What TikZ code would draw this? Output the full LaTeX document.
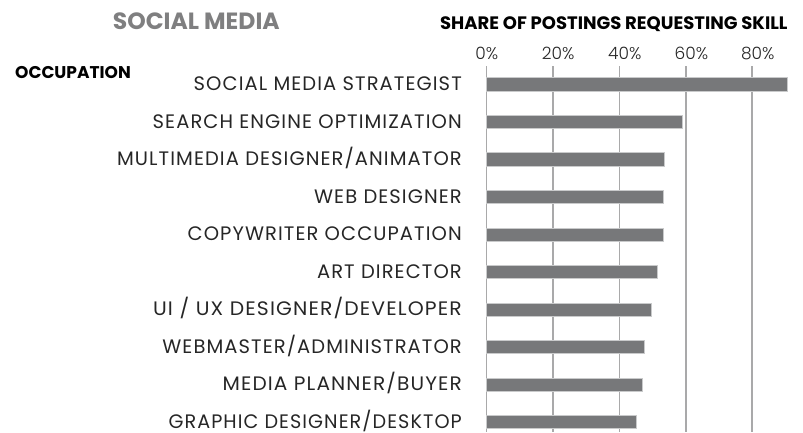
\documentclass[tikz,border=0pt]{standalone}
\usepackage{fontspec}
\setmainfont{Poppins}
\newfontfamily\lightfont{Poppins Light}
\newfontfamily\labfont{Poppins}[LetterSpace=5.5]
\definecolor{bargray}{HTML}{77787A}
\definecolor{baredge}{HTML}{C9CACB}
\definecolor{gridgray}{HTML}{A9A9AA}
\definecolor{titlegray}{HTML}{7F7F80}
\tikzset{
  bar/.style={fill=bargray, draw=baredge, line width=0.8pt},
  grid/.style={draw=gridgray, line width=1.6pt},
  lab/.style={anchor=base east, inner sep=0pt, text depth=0pt, font=\labfont\fontsize{19.5}{22}\selectfont, text=black!85},
  tick/.style={anchor=base west, inner sep=0pt, font=\lightfont\fontsize{17}{20}\selectfont, text=black!85},
  head/.style={inner sep=0pt, font=\bfseries\fontsize{17}{20}\selectfont}
}
\begin{document}
\begin{tikzpicture}[x=1pt,y=-1pt]
\useasboundingbox (0,0) rectangle (803,433);
% gridlines
\foreach \i in {0,...,4} {
  \draw[grid] (486.5+66.4*\i,66.5) -- (486.5+66.4*\i,432);
}
% tick labels
\foreach \t [count=\i from 0] in {0\%,20\%,40\%,60\%,80\%} {
  \node[tick] (tick\i) at (486.5+66.4*\i-11.3,59.3) {\t};
}
% bars and labels
\foreach \v/\s/\name [count=\i from 0] in {
  90.5/1/{SOCIAL MEDIA STRATEGIST},
  58.9/1/{SEARCH ENGINE OPTIMIZATION},
  53.5/1/{MULTIMEDIA DESIGNER/ANIMATOR},
  53.2/1/{WEB DESIGNER},
  53.2/1/{COPYWRITER OCCUPATION},
  51.6/1/{ART DIRECTOR},
  49.8/1.044/{UI / UX DESIGNER/DEVELOPER},
  47.6/1/{WEBMASTER/ADMINISTRATOR},
  47.0/1.032/{MEDIA PLANNER/BUYER},
  45.1/0.985/{GRAPHIC DESIGNER/DESKTOP}} {
  \path[bar] (486,84.5+37.5*\i-6.6) rectangle (486.5+3.32*\v,84.5+37.5*\i+6.6);
  \node[lab] (lab\i) at (462,84.5+37.5*\i+6.1) {\scalebox{\s}[1]{\name}};
}
% headings
\node[head, anchor=base west, text=titlegray, font=\bfseries\fontsize{23.5}{26}\selectfont] (title) at (112.7,30) {SOCIAL MEDIA};
\node[head, anchor=base west] (occ) at (15,78.3) {OCCUPATION};
\node[head, anchor=base east, font=\bfseries\fontsize{18}{20}\selectfont] (share) at (787.7,30) {SHARE OF POSTINGS REQUESTING SKILL};
\end{tikzpicture}
\end{document}
